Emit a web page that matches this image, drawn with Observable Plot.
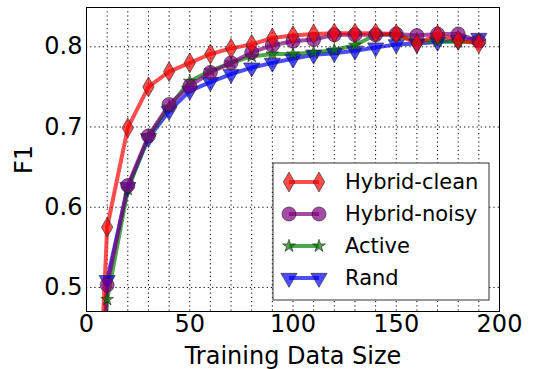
<!DOCTYPE html>
<html><head><meta charset="utf-8">
<script src="https://cdn.jsdelivr.net/npm/d3@7"></script>
<script src="https://cdn.jsdelivr.net/npm/@observablehq/plot@0.6"></script>
<style>body{margin:0;background:#fff} #chart{width:533px;height:369px;position:relative}</style>
</head><body><div id="chart"></div>
<script>
const sizes = [0, 10, 20, 30, 40, 50, 60, 70, 80, 90, 100, 110, 120, 130, 140, 150, 160, 170, 180, 190];
const hybridClean = [0, 0.575, 0.699, 0.750, 0.769, 0.780, 0.791, 0.798, 0.803, 0.811, 0.814, 0.816, 0.817, 0.817, 0.817, 0.816, 0.804, 0.815, 0.808, 0.804];
const hybridNoisy = [0, 0.503, 0.627, 0.689, 0.728, 0.751, 0.768, 0.780, 0.793, 0.802, 0.807, 0.809, 0.815, 0.815, 0.815, 0.816, 0.814, 0.816, 0.816, 0.807];
const active      = [0, 0.485, 0.622, 0.688, 0.725, 0.757, 0.770, 0.780, 0.788, 0.791, 0.791, 0.793, 0.796, 0.802, 0.815, 0.815, 0.807, 0.807, 0.806, 0.806];
const rand        = [0, 0.509, 0.625, 0.686, 0.720, 0.745, 0.756, 0.766, 0.774, 0.780, 0.785, 0.790, 0.792, 0.795, 0.799, 0.803, 0.804, 0.806, 0.808, 0.811];
const seriesNames = ["Hybrid-clean", "Hybrid-noisy", "Active", "Rand"];
const seriesColors = ["#ff0000", "#800080", "#008000", "#0000ff"];
const xTicks = [0, 50, 100, 150, 200];
const xGrid = [10, 20, 30, 40, 50, 60, 70, 80, 90, 100, 110, 120, 130, 140, 150, 160, 170, 180, 190];
const yTicks = [0.5, 0.6, 0.7, 0.8];

const triDown = {
  draw(ctx, size) {
    const a = Math.sqrt(size * 4 / Math.sqrt(3));
    const h = a * Math.sqrt(3) / 2;
    ctx.moveTo(-a / 2, -h / 3);
    ctx.lineTo(a / 2, -h / 3);
    ctx.lineTo(0, 2 * h / 3);
    ctx.closePath();
  }
};
const symbols = [d3.symbolDiamond, d3.symbolCircle, d3.symbolStar, triDown];
const radii = [6, 7, 4, 6];
const valuesList = [hybridClean, hybridNoisy, active, rand];

const series = seriesNames.map((name, i) => ({
  name, color: seriesColors[i], symbol: symbols[i], r: radii[i],
  data: sizes.map((s, j) => ({x: s, y: valuesList[i][j]}))
}));

const drawOrder = [3, 2, 1, 0];
const marks = [
  Plot.gridX(xGrid, {stroke: "black", strokeOpacity: 1, strokeDasharray: "1.2,3", strokeWidth: 1}),
  Plot.gridY(yTicks, {stroke: "black", strokeOpacity: 1, strokeDasharray: "1.2,3", strokeWidth: 1}),
];
for (const i of drawOrder) {
  const s = series[i];
  marks.push(Plot.line(s.data, {x: "x", y: "y", stroke: s.color, strokeWidth: 4, strokeOpacity: 0.7, clip: true}));
}
for (const i of drawOrder) {
  const s = series[i];
  marks.push(Plot.dot(s.data, {x: "x", y: "y", symbol: s.symbol, r: s.r, fill: s.color, fillOpacity: 0.7, stroke: "#222", strokeOpacity: 0.6, strokeWidth: 1, clip: true}));
}
marks.push(
  Plot.axisX({ticks: xTicks, tickSize: 0, tickPadding: 3, fontSize: 24, label: "Training Data Size", labelAnchor: "center", labelArrow: "none", labelOffset: 52}),
  Plot.axisY({ticks: yTicks, tickSize: 0, tickPadding: 4, fontSize: 24, tickFormat: d3.format(".1f"), label: "F1", labelAnchor: "center", labelArrow: "none", labelOffset: 72}),
  Plot.frame({stroke: "black", strokeWidth: 1})
);

const chart = Plot.plot({
  width: 533, height: 369,
  marginLeft: 86, marginRight: 34, marginTop: 7, marginBottom: 58,
  x: {domain: [0, 200]},
  y: {domain: [0.47, 0.849]},
  style: {fontFamily: "DejaVu Sans", fontSize: "24px", background: "white", color: "black"},
  marks
});
document.getElementById("chart").appendChild(chart);

// legend inside plot area
const svg = d3.select(chart);
const lg = svg.append("g").attr("transform", "translate(273,163)");
lg.append("rect").attr("width", 216).attr("height", 137).attr("fill", "white").attr("stroke", "#333").attr("stroke-width", 1);
series.forEach((s, i) => {
  const cy = 19 + i * 32;
  const g = lg.append("g").attr("transform", `translate(0,${cy})`);
  g.append("line").attr("x1", 16).attr("x2", 46).attr("stroke", s.color).attr("stroke-width", 4).attr("stroke-opacity", 0.7);
  const path = d3.symbol(s.symbol, Math.PI * s.r * s.r)();
  for (const px of [16, 46]) {
    g.append("path").attr("d", path).attr("transform", `translate(${px},0)`)
      .attr("fill", s.color).attr("fill-opacity", 0.7).attr("stroke", "#222").attr("stroke-opacity", 0.6);
  }
  g.append("text").attr("x", 72).attr("dy", "0.35em").attr("text-anchor", "start").attr("font-size", 21).attr("font-family", "DejaVu Sans").attr("fill", "black").text(s.name);
});
</script></body></html>
